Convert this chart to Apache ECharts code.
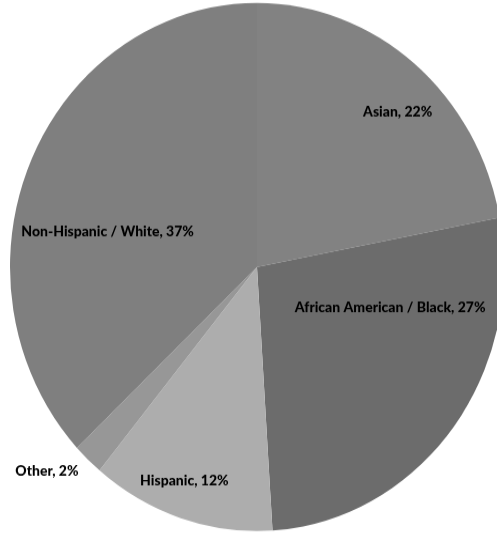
<!DOCTYPE html>
<html>
<head>
<meta charset="utf-8">
<script src="https://cdn.jsdelivr.net/npm/echarts@6/dist/echarts.min.js"></script>
<style>
html,body{margin:0;padding:0;background:#fff;overflow:hidden;}
#wrap{width:497px;height:535px;overflow:hidden;}
#chart{width:497px;height:500px;transform:scaleY(1.069);transform-origin:0 0;}
</style>
</head>
<body>
<div id="wrap"><div id="chart"></div></div>
<script>
const categories = ['Asian', 'African American / Black', 'Hispanic', 'Other', 'Non-Hispanic / White'];
const percents = [22, 27, 12, 2, 37];
const colors = ['#828282', '#6c6c6c', '#adadad', '#979797', '#7f7f7f'];

// label placement tweaks (fraction of radius, angle offset in degrees)
const labelRadial = [0.82, 0.56, 0.86, 1.15, 0.62];
const labelAngle = [4.4, -22.1, 2, 4.5, -10.7];

const CX = 257, CY = 249.8, R = 247;
const total = percents.reduce((a, b) => a + b, 0);
const midAngles = [];
let acc = 0;
percents.forEach(v => { midAngles.push((acc + v / 2) / total * 360); acc += v; });

const chart = echarts.init(document.getElementById('chart'), null, {renderer: 'canvas'});
chart.setOption({
  animation: false,
  series: [{
    type: 'pie',
    center: [CX, CY],
    radius: [0, R],
    startAngle: 90,
    clockwise: true,
    data: categories.map((c, i) => ({name: c, value: percents[i], itemStyle: {color: colors[i]}})),
    itemStyle: {borderWidth: 0},
    label: {
      show: true,
      position: 'inside',
      formatter: p => p.name + ', ' + p.value + '%',
      color: '#000',
      fontFamily: 'Lato, "Open Sans", sans-serif',
      fontWeight: 900,
      fontSize: 14
    },
    labelLine: {show: false},
    labelLayout: function (params) {
      const i = params.dataIndex;
      const a = (midAngles[i] + labelAngle[i]) * Math.PI / 180;
      const d = labelRadial[i] * R;
      return {
        x: CX + d * Math.sin(a),
        y: CY - d * Math.cos(a),
        align: 'center',
        verticalAlign: 'middle'
      };
    }
  }]
});
</script>
</body>
</html>
